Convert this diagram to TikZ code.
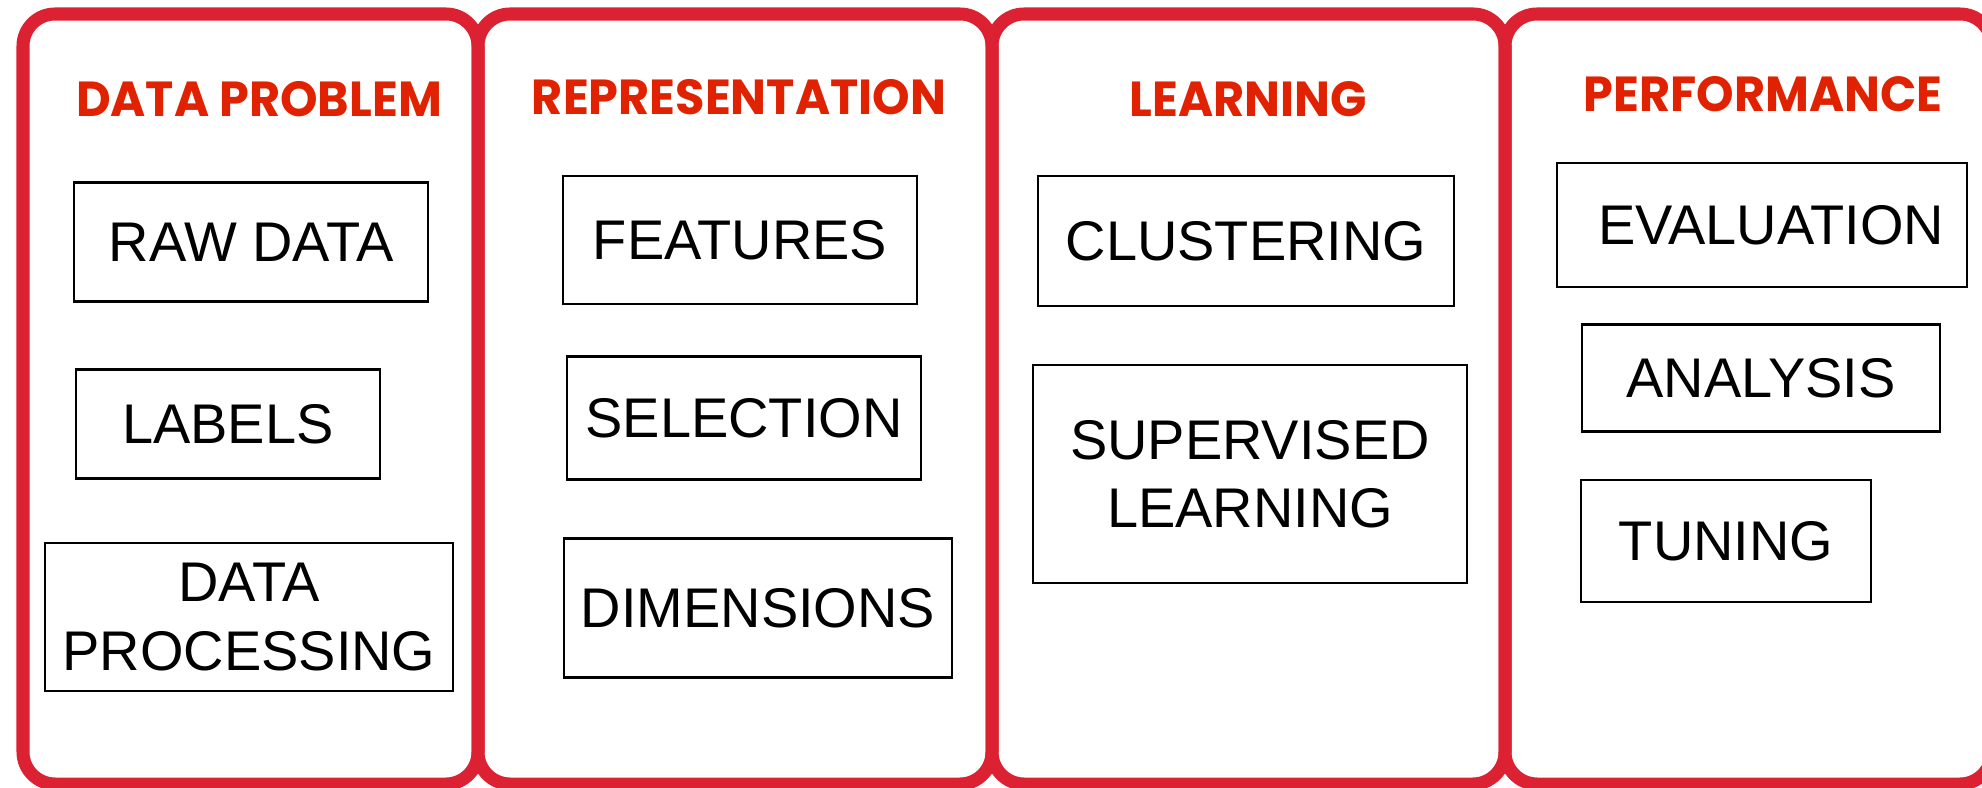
\documentclass[tikz,border=0pt]{standalone}
\usepackage{fontspec}
\setmainfont{Liberation Sans}
\newfontfamily\titlefont[FakeStretch=0.97]{Poppins}
\definecolor{panelred}{HTML}{DC2132}
\definecolor{titlered}{HTML}{E02200}
\tikzset{
    panel/.style={draw=panelred, line width=0.13cm, rounded corners=0.32cm},
    heading/.style={text=titlered, inner sep=0pt,
        font=\titlefont\bfseries\fontsize{14}{16}\selectfont},
    term/.style n args={2}{draw, line width=0.6pt, inner sep=0pt,
        align=center, minimum width=#1, minimum height=#2,
        font=\fontsize{15.9}{19.4}\selectfont},
}
\begin{document}
\begin{tikzpicture}[x=0.01cm, y=-0.01cm]
    \useasboundingbox (0,0) rectangle (1982,788);
    % Рисуем панели
    \draw[panel] (23,14) rectangle (478,784);
    \draw[panel] (478,14) rectangle (992,784);
    \draw[panel] (992,14) rectangle (1505,784);
    \draw[panel] (1505,14) rectangle (1992,784);

    % Заголовки
    \node[heading] (hdata) at (259,99) {DATA PROBLEM};
    \node[heading] (hrepr) at (739,97) {REPRESENTATION};
    \node[heading] (hlearn) at (1248,99) {LEARNING};
    \node[heading] (hperf) at (1763,94) {PERFORMANCE};

    % Первая панель
    \node[term={3.53cm}{1.19cm}] (raw) at (251,242) {RAW DATA};
    \node[term={3.03cm}{1.09cm}] (labels) at (228,424) {LABELS};
    \node[term={4.07cm}{1.48cm}] (proc) at (249,617) {DATA\\PROCESSING};

    % Вторая панель
    \node[term={3.53cm}{1.28cm}] (feat) at (740,240) {FEATURES};
    \node[term={3.54cm}{1.23cm}] (sel) at (744,418) {SELECTION};
    \node[term={3.87cm}{1.39cm}] (dim) at (758,608) {DIMENSIONS};

    % Третья панель
    \node[term={4.15cm}{1.30cm}] (clust) at (1246,241) {CLUSTERING};
    \node[term={4.34cm}{2.17cm}] (superv) at (1250,474) {SUPERVISED\\LEARNING};

    % Четвёртая панель
    \node[term={4.09cm}{1.24cm}] (eval) at (1762,225) {\hspace{0.18cm}EVALUATION};
    \node[term={3.58cm}{1.07cm}] (anal) at (1761,378) {ANALYSIS};
    \node[term={2.89cm}{1.22cm}] (tune) at (1726,541) {TUNING};
\end{tikzpicture}
\end{document}
